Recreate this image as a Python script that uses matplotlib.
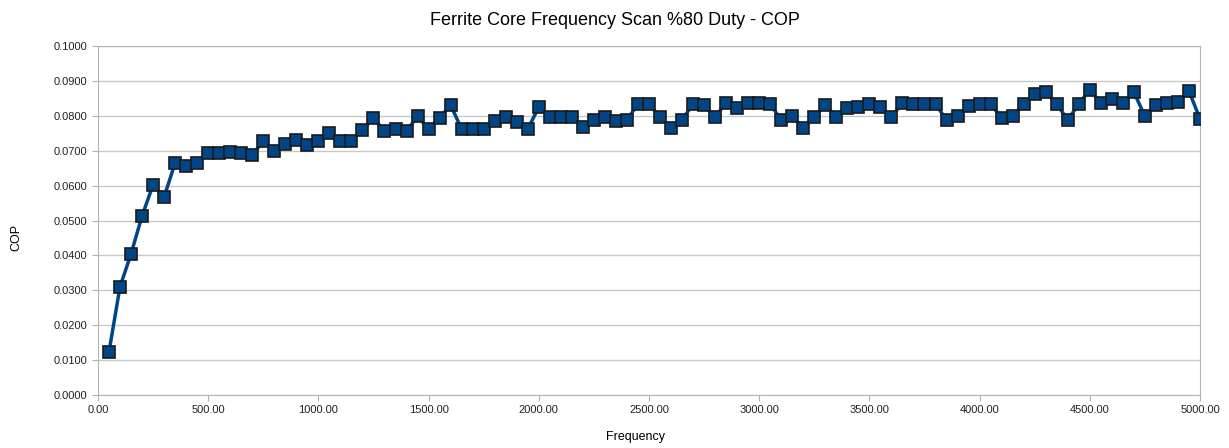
import matplotlib.pyplot as plt
from matplotlib.ticker import FormatStrFormatter, MultipleLocator

freq = list(range(50, 5001, 50))
cop = [
    0.0123, 0.0310, 0.0404, 0.0513, 0.0602, 0.0567, 0.0665, 0.0656, 0.0665, 0.0693,
    0.0693, 0.0696, 0.0693, 0.0688, 0.0728, 0.0699, 0.0719, 0.0730, 0.0716, 0.0728,
    0.0751, 0.0728, 0.0728, 0.0759, 0.0794, 0.0756, 0.0762, 0.0756, 0.0799, 0.0762,
    0.0794, 0.0831, 0.0762, 0.0762, 0.0762, 0.0785, 0.0797, 0.0782, 0.0762, 0.0825,
    0.0797, 0.0797, 0.0797, 0.0768, 0.0788, 0.0797, 0.0785, 0.0788, 0.0834, 0.0834,
    0.0797, 0.0765, 0.0788, 0.0834, 0.0831, 0.0797, 0.0837, 0.0822, 0.0837, 0.0837,
    0.0834, 0.0788, 0.0799, 0.0765, 0.0797, 0.0831, 0.0797, 0.0822, 0.0825, 0.0834,
    0.0825, 0.0797, 0.0837, 0.0834, 0.0834, 0.0834, 0.0788, 0.0799, 0.0828, 0.0834,
    0.0834, 0.0794, 0.0799, 0.0834, 0.0862, 0.0868, 0.0834, 0.0788, 0.0834, 0.0874,
    0.0837, 0.0848, 0.0837, 0.0868, 0.0799, 0.0831, 0.0837, 0.0840, 0.0871, 0.0791,
]

plt.rcParams['font.family'] = ['Liberation Sans', 'DejaVu Sans']

fig = plt.figure(figsize=(12.29, 4.48), dpi=100)
ax = fig.add_axes([0.0797, 0.1183, 0.8967, 0.779])

ax.plot(freq, cop, color='#004586', lw=2.5, marker='s', ms=8,
        mfc='#004586', mec='#1a1a1a', mew=1.2, zorder=3)

ax.set_xlim(0, 5000)
ax.set_ylim(0, 0.1)
ax.xaxis.set_major_locator(MultipleLocator(500))
ax.yaxis.set_major_locator(MultipleLocator(0.01))
ax.xaxis.set_major_formatter(FormatStrFormatter('%.2f'))
ax.yaxis.set_major_formatter(FormatStrFormatter('%.4f'))
ax.grid(axis='y', color='#c8c8c8', lw=1)
ax.set_axisbelow(True)
for s in ax.spines.values():
    s.set_color('#b3b3b3')
ax.tick_params(colors='#b3b3b3', labelcolor='#222222', labelsize=8, length=4)

# title and axis names placed on the figure
fig.text(0.5, 0.955, 'Ferrite Core Frequency Scan %80 Duty - COP',
         ha='center', va='center', fontsize=13)
fig.text(0.517, 0.025, 'Frequency', ha='center', va='center', fontsize=9)
fig.text(0.013, 0.471, 'COP', ha='center', va='center', rotation=90, fontsize=9)

plt.savefig('out.png')
